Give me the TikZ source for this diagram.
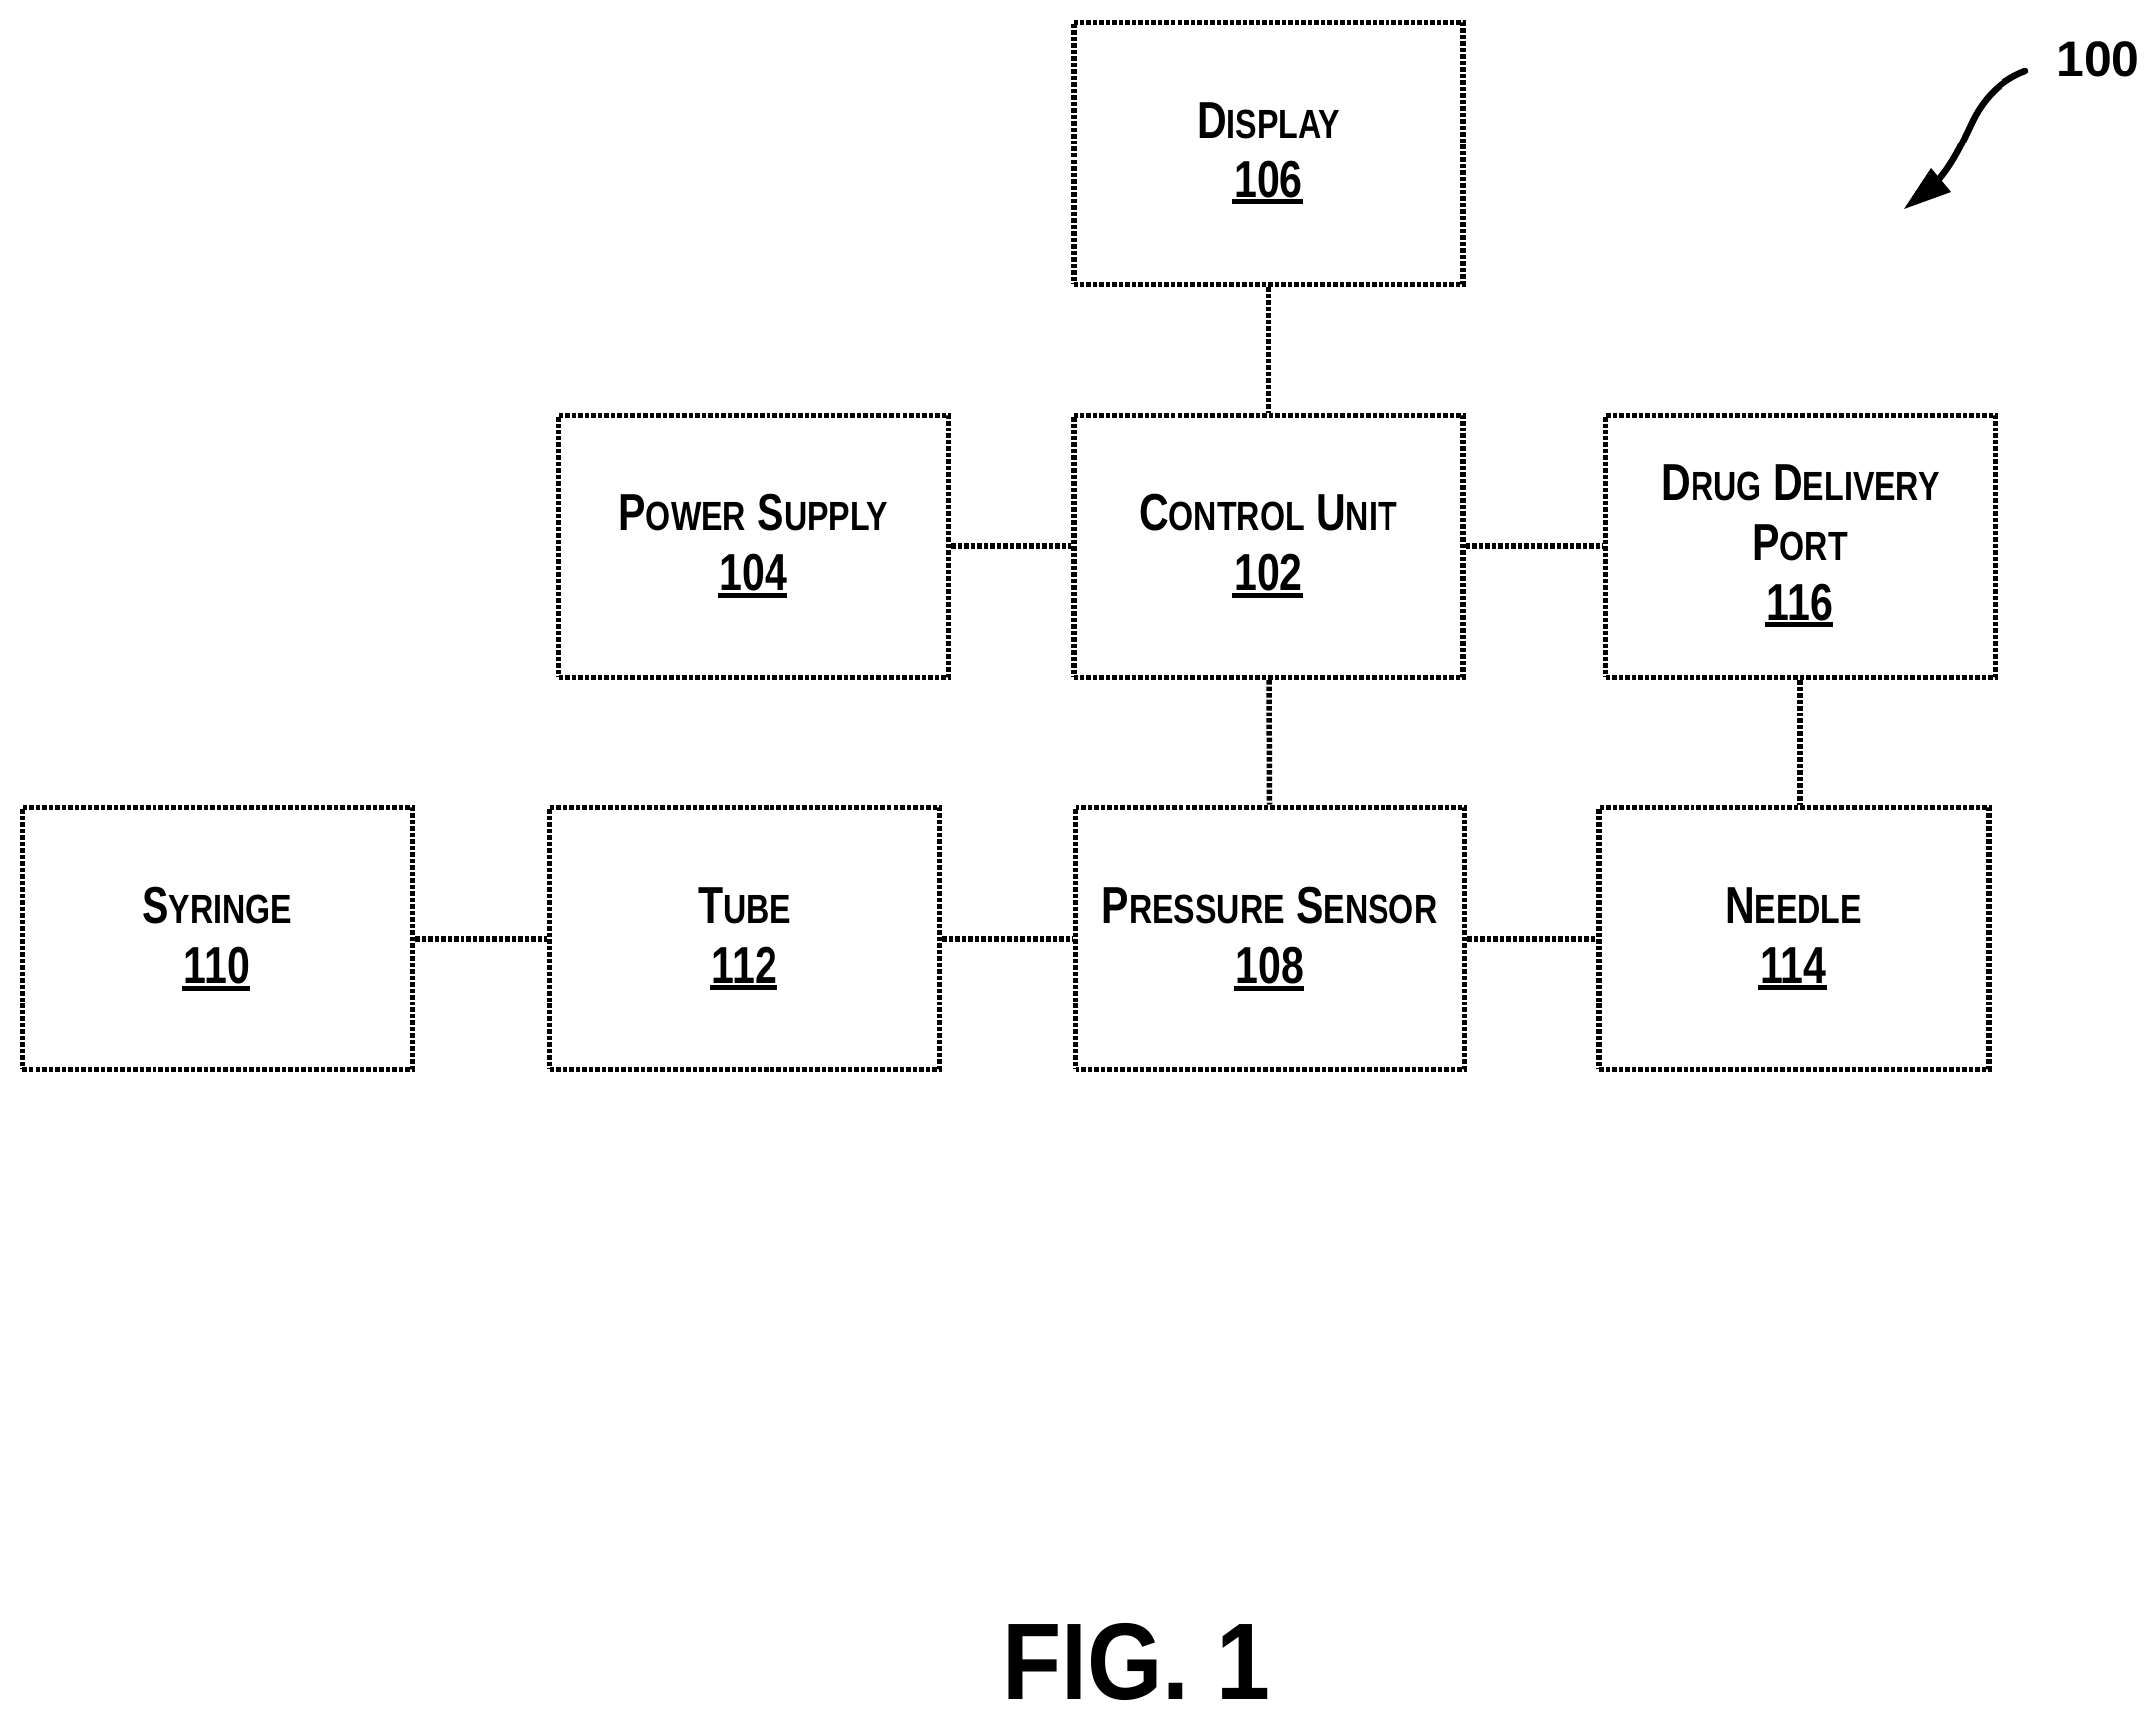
\documentclass[tikz,border=0pt]{standalone}
\usepackage{fontspec}
\setmainfont{Liberation Sans}[FakeStretch=0.79]
\newfontfamily\plainbold{Liberation Sans}
\newfontfamily\figbold{Liberation Sans}[FakeStretch=0.89]
\newcommand{\smallcaps}[1]{{\fontsize{11.6}{17.1}\selectfont #1}}
\newcommand{\refnum}[1]{\sbox0{#1}\usebox0\llap{\rule[-0.07cm]{\dimexpr\wd0+0.02cm\relax}{0.05cm}}}
\tikzset{
    blockbox/.style={draw, line width=0.055cm, dash pattern=on 0.045cm off 0.02cm, minimum width=3.91cm, minimum height=2.63cm, align=center, font=\bfseries\fontsize{14.8}{17.1}\selectfont},
    linkline/.style={line width=0.055cm, dash pattern=on 0.045cm off 0.02cm}
}
\begin{document}
\begin{tikzpicture}
    \useasboundingbox (0,0) rectangle (21.63,17.24);

    \draw (12.725,15.70) node[blockbox] (display) {D\smallcaps{ISPLAY}\\\refnum{106}};
    \draw (12.725,11.76) node[blockbox] (control) {C\smallcaps{ONTROL} U\smallcaps{NIT}\\\refnum{102}};
    \draw (7.56,11.76) node[blockbox] (power) {P\smallcaps{OWER} S\smallcaps{UPPLY}\\\refnum{104}};
    \draw (18.06,11.76) node[blockbox] (drug) {D\smallcaps{RUG} D\smallcaps{ELIVERY}\\P\smallcaps{ORT}\\\refnum{116}};

    \draw (2.18,7.82) node[blockbox] (syringe) {S\smallcaps{YRINGE}\\\refnum{110}};
    \draw (7.47,7.82) node[blockbox] (tube) {T\smallcaps{UBE}\\\refnum{112}};
    \draw (12.74,7.82) node[blockbox] (pressure) {P\smallcaps{RESSURE} S\smallcaps{ENSOR}\\\refnum{108}};
    \draw (17.995,7.82) node[blockbox] (needle) {N\smallcaps{EEDLE}\\\refnum{114}};

    \draw[linkline] (display) -- (control);
    \draw[linkline] (power) -- (control);
    \draw[linkline] (control) -- (drug);
    \draw[linkline] (control) -- (pressure);
    \draw[linkline] (drug.south) -- (drug.south |- needle.north);
    \draw[linkline] (syringe) -- (tube);
    \draw[linkline] (tube) -- (pressure);
    \draw[linkline] (pressure) -- (needle);

    \draw (21.05,16.65) node[font=\plainbold\bfseries\fontsize{14.2}{17}\selectfont] (label) {100};
    \coordinate (curvestart) at (20.32,16.53);
    \coordinate (curvemid) at (19.78,16.01);
    \coordinate (curveend) at (19.45,15.44);
    \coordinate (headtip) at (19.10,15.14);
    \coordinate (headleft) at (19.37,15.55);
    \coordinate (headright) at (19.57,15.31);
    \draw[line width=0.065cm, line cap=round] (curvestart) .. controls (20.02,16.42) and (19.86,16.18) .. (curvemid) .. controls (19.70,15.84) and (19.60,15.62) .. (curveend);
    \fill (headtip) -- (headleft) -- (headright) -- cycle;

    \draw (11.40,0.565) node[font=\figbold\bfseries\fontsize{31}{36}\selectfont] (fig) {FIG. 1};
\end{tikzpicture}
\end{document}
